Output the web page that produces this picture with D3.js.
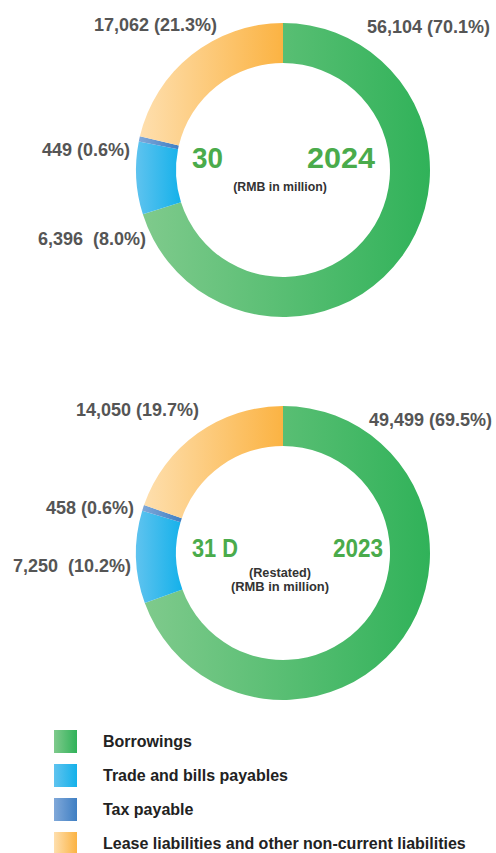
<!DOCTYPE html>
<html>
<head>
<meta charset="utf-8">
<script src="https://cdn.jsdelivr.net/npm/d3@7/dist/d3.min.js"></script>
<style>
  html, body { margin: 0; padding: 0; background: #fff; }
  svg { display: block; }
  text { font-family: "Liberation Sans", Arial, Helvetica, sans-serif; font-weight: bold; white-space: pre; }
</style>
</head>
<body>
<svg id="chart" width="496" height="853"></svg>
<script>
// Liability composition (RMB in million)
const categories = [
  "Borrowings",
  "Trade and bills payables",
  "Tax payable",
  "Lease liabilities and other non-current liabilities"
];
const values2024 = [56104, 6396, 449, 17062];
const shares2024 = ["70.1%", "8.0%", "0.6%", "21.3%"];
const values2023 = [49499, 7250, 458, 14050];
const shares2023 = ["69.5%", "10.2%", "0.6%", "19.7%"];

// light-to-dark horizontal gradient stops per category
const colorLight = ["#7fca8c", "#5fc3ef", "#80a8d9", "#fedfae"];
const colorDark  = ["#30b259", "#14b1ea", "#3f7fc3", "#fbb343"];

const svg = d3.select("#chart");
const defs = svg.append("defs");
categories.forEach((c, i) => {
  const g = defs.append("linearGradient")
    .attr("id", "grad" + i)
    .attr("x1", 0).attr("y1", 0).attr("x2", 1).attr("y2", 0);
  g.append("stop").attr("offset", "0%").attr("stop-color", colorLight[i]);
  g.append("stop").attr("offset", "100%").attr("stop-color", colorDark[i]);
});

const fmt = d3.format(",");
const pie = d3.pie().sort(null).value(d => d).startAngle(0).endAngle(2 * Math.PI);
const arc = d3.arc().innerRadius(107).outerRadius(147);

function donut(cfg) {
  const g = svg.append("g").attr("transform", `translate(${cfg.cx},${cfg.cy})`);
  g.selectAll("path")
    .data(pie(cfg.values))
    .join("path")
    .attr("d", arc)
    .attr("fill", (d, i) => `url(#grad${i})`);

  // value labels
  cfg.values.forEach((v, i) => {
    const sep = i === 1 ? "  " : " ";
    const p = cfg.labelPos[i];
    svg.append("text")
      .attr("x", p[0]).attr("y", p[1])
      .attr("text-anchor", p[2])
      .attr("font-size", 18)
      .attr("fill", "#555")
      .text(`${fmt(v)}${sep}(${cfg.shares[i]})`);
  });

  // centre title pieces
  cfg.title.forEach(t => {
    svg.append("text")
      .attr("x", t.x).attr("y", t.y)
      .attr("font-size", t.size)
      .attr("fill", "#4aab4b")
      .attr("textLength", t.w)
      .attr("lengthAdjust", "spacingAndGlyphs")
      .text(t.text);
  });
  cfg.notes.forEach(n => {
    svg.append("text")
      .attr("x", cfg.cx - 3).attr("y", n.y)
      .attr("text-anchor", "middle")
      .attr("font-size", n.size)
      .attr("fill", "#333")
      .text(n.text);
  });
}

donut({
  cx: 283, cy: 170,
  values: values2024, shares: shares2024,
  labelPos: [[490, 33, "end"], [146, 245, "end"], [130, 156, "end"], [217, 31, "end"]],
  title: [
    { text: "30", x: 192, y: 168, size: 29, w: 31 },
    { text: "2024", x: 307, y: 168, size: 29, w: 68 }
  ],
  notes: [{ text: "(RMB in million)", y: 191, size: 12.3 }]
});

donut({
  cx: 283, cy: 553,
  values: values2023, shares: shares2023,
  labelPos: [[492, 426, "end"], [131, 572, "end"], [134, 514, "end"], [199, 416, "end"]],
  title: [
    { text: "31 D", x: 192, y: 557, size: 26, w: 46 },
    { text: "2023", x: 333, y: 557, size: 26, w: 50 }
  ],
  notes: [
    { text: "(Restated)", y: 577, size: 12.7 },
    { text: "(RMB in million)", y: 591, size: 12.9 }
  ]
});

// legend
const legend = svg.append("g");
const ly = d3.scalePoint().domain(categories).range([730, 832]);
categories.forEach((c, i) => {
  legend.append("rect")
    .attr("x", 54).attr("y", ly(c))
    .attr("width", 23).attr("height", 23)
    .attr("fill", `url(#grad${i})`);
  legend.append("text")
    .attr("x", 103).attr("y", ly(c) + 17)
    .attr("font-size", 16)
    .attr("fill", "#222")
    .text(c);
});
</script>
</body>
</html>
